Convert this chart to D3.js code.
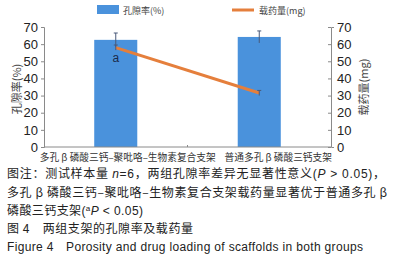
<!DOCTYPE html>
<html>
<head>
<meta charset="utf-8">
<script src="https://d3js.org/d3.v7.min.js"></script>
<style>
  body { margin: 0; background: #fff; }
  svg { display: block; font-family: "Liberation Sans", Arial, sans-serif; }
  .cn { font-family: "Noto Sans CJK SC", sans-serif; }
</style>
</head>
<body>
<svg id="chart" width="403" height="270"></svg>
<script>
// data
const groups = ["多孔 β 磷酸三钙–聚吡咯–生物素复合支架", "普通多孔 β 磷酸三钙支架"];
const porosity = [62.5, 64.2];
const porosityErr = [4, 3.5];
const loading = [58, 31.5];
const loadingErr = [1.5, 1.5];
const yTicks = [0, 10, 20, 30, 40, 50, 60, 70];
const captionLines = [
  "图注：测试样本量 n=6，两组孔隙率差异无显著性意义(P ＞ 0.05)，",
  "多孔 β 磷酸三钙–聚吡咯–生物素复合支架载药量显著优于普通多孔 β",
  "磷酸三钙支架(aP < 0.05)",
  "图 4　两组支架的孔隙率及载药量",
  "Figure 4　Porosity and drug loading of scaffolds in both groups"
];

const svg = d3.select("#chart");
const plotLeft = 44, plotRight = 331, plotTop = 27, plotBottom = 147;
const axisColor = "#8a8a8a";

const x = d3.scaleBand().domain(groups).range([plotLeft, plotRight]).paddingInner(0.7).paddingOuter(0.35);
const y = d3.scaleLinear().domain([0, 70]).range([plotBottom, plotTop]);

// bars
svg.append("g").selectAll("rect")
  .data(groups)
  .join("rect")
  .attr("x", d => x(d))
  .attr("width", x.bandwidth())
  .attr("y", (d, i) => y(porosity[i]))
  .attr("height", (d, i) => plotBottom - y(porosity[i]))
  .attr("fill", "#4a92dc");

// porosity error bars
const eb = svg.append("g").attr("stroke", "#4a5a7a").attr("stroke-width", 1);
groups.forEach((g, i) => {
  const cx = x(g) + x.bandwidth() / 2;
  eb.append("line").attr("x1", cx).attr("x2", cx)
    .attr("y1", y(porosity[i] + porosityErr[i])).attr("y2", y(porosity[i] - porosityErr[i]));
  eb.append("line").attr("x1", cx - 2).attr("x2", cx + 2)
    .attr("y1", y(porosity[i] + porosityErr[i])).attr("y2", y(porosity[i] + porosityErr[i]));
});

// loading line
const line = d3.line()
  .x((d, i) => x(groups[i]) + x.bandwidth() / 2)
  .y(d => y(d));
svg.append("path").datum(loading)
  .attr("d", line)
  .attr("fill", "none")
  .attr("stroke", "#e57f3c")
  .attr("stroke-width", 3);

const eb2 = svg.append("g").attr("stroke", "#4a5a7a").attr("stroke-width", 1);
loading.forEach((v, i) => {
  const cx = x(groups[i]) + x.bandwidth() / 2;
  eb2.append("line").attr("x1", cx).attr("x2", cx)
    .attr("y1", y(v + loadingErr[i])).attr("y2", y(v - loadingErr[i]));
  eb2.append("line").attr("x1", cx - 2).attr("x2", cx + 2)
    .attr("y1", y(v + loadingErr[i])).attr("y2", y(v + loadingErr[i]));
});

// significance mark
svg.append("text")
  .attr("x", x(groups[0]) + x.bandwidth() / 2)
  .attr("y", y(loading[0]) + 14)
  .attr("text-anchor", "middle")
  .attr("font-size", 12)
  .attr("fill", "#1a2a4a")
  .text("a");

// axes
const yLeft = svg.append("g").attr("transform", `translate(${plotLeft},0)`)
  .call(d3.axisLeft(y).tickValues(yTicks).tickSize(3).tickPadding(3));
const yRight = svg.append("g").attr("transform", `translate(${plotRight},0)`)
  .call(d3.axisRight(y).tickValues(yTicks).tickSize(3).tickPadding(3));
[yLeft, yRight].forEach(a => {
  a.select(".domain").attr("stroke", axisColor);
  a.selectAll(".tick line").attr("stroke", axisColor);
  a.selectAll(".tick text").attr("font-size", 13).attr("fill", "#222")
    .attr("font-family", "Liberation Sans, Arial, sans-serif");
});
yRight.selectAll(".tick line").attr("x1", -3).attr("x2", 0);

svg.append("line")
  .attr("x1", plotLeft).attr("x2", plotRight)
  .attr("y1", plotBottom).attr("y2", plotBottom)
  .attr("stroke", axisColor);
svg.append("line")
  .attr("x1", (plotLeft + plotRight) / 2).attr("x2", (plotLeft + plotRight) / 2)
  .attr("y1", plotBottom).attr("y2", plotBottom - 2)
  .attr("stroke", axisColor);

// category labels
svg.append("g").selectAll("text")
  .data(groups)
  .join("text")
  .attr("class", "cn")
  .attr("x", (d, i) => x(d) + x.bandwidth() / 2 + (i === 0 ? 12 : 19))
  .attr("y", 161)
  .attr("text-anchor", "middle")
  .attr("font-size", 9.7)
  .attr("fill", "#333")
  .text(d => d);

// axis titles
svg.append("text")
  .attr("class", "cn")
  .attr("transform", `translate(17,${(plotTop + plotBottom) / 2 + 2}) rotate(-90)`)
  .attr("text-anchor", "middle")
  .attr("dy", "0.35em")
  .attr("font-size", 11)
  .attr("fill", "#444")
  .text("孔隙率(%)");
svg.append("text")
  .attr("class", "cn")
  .attr("transform", `translate(364,${(plotTop + plotBottom) / 2}) rotate(-90)`)
  .attr("text-anchor", "middle")
  .attr("dy", "0.35em")
  .attr("font-size", 11)
  .attr("fill", "#444")
  .text("载药量(mg)");

// legend
const lg = svg.append("g");
lg.append("rect").attr("x", 97).attr("y", 5).attr("width", 22).attr("height", 9).attr("fill", "#4a92dc");
lg.append("text").attr("class", "cn").attr("x", 123).attr("y", 13.5)
  .attr("font-size", 9).attr("fill", "#444").text("孔隙率(%)");
lg.append("line").attr("x1", 232).attr("x2", 254).attr("y1", 10).attr("y2", 10)
  .attr("stroke", "#e57f3c").attr("stroke-width", 3);
lg.append("text").attr("class", "cn").attr("x", 259).attr("y", 13.5)
  .attr("font-size", 9).attr("fill", "#444").text("载药量(mg)");

// caption
const cap = svg.append("g").attr("fill", "#222");
const capY = [178, 197, 215, 233, 251];
const capLen = [378, 380, 136, 186, 356];
captionLines.forEach((t, i) => {
  const tx = cap.append("text")
    .attr("x", 7).attr("y", capY[i])
    .attr("font-size", 12)
    .attr("textLength", capLen[i])
    .attr("lengthAdjust", "spacing");
  if (i === 0) {
    tx.append("tspan").attr("class", "cn").text("图注：测试样本量 ");
    tx.append("tspan").attr("font-style", "italic").text("n");
    tx.append("tspan").text("=6");
    tx.append("tspan").attr("class", "cn").text("，两组孔隙率差异无显著性意义");
    tx.append("tspan").text("(");
    tx.append("tspan").attr("font-style", "italic").text("P");
    tx.append("tspan").text(" >  0.05)");
    tx.append("tspan").attr("class", "cn").text("，");
  } else if (i === 2) {
    tx.append("tspan").attr("class", "cn").text("磷酸三钙支架");
    tx.append("tspan").text("(");
    tx.append("tspan").attr("font-size", 8).attr("dy", -4).text("a");
    tx.append("tspan").attr("font-style", "italic").attr("dy", 4).text("P");
    tx.append("tspan").text(" < 0.05)");
  } else if (i === 4) {
    tx.text(t);
  } else {
    tx.attr("class", "cn").text(t);
  }
});
</script>
</body>
</html>
